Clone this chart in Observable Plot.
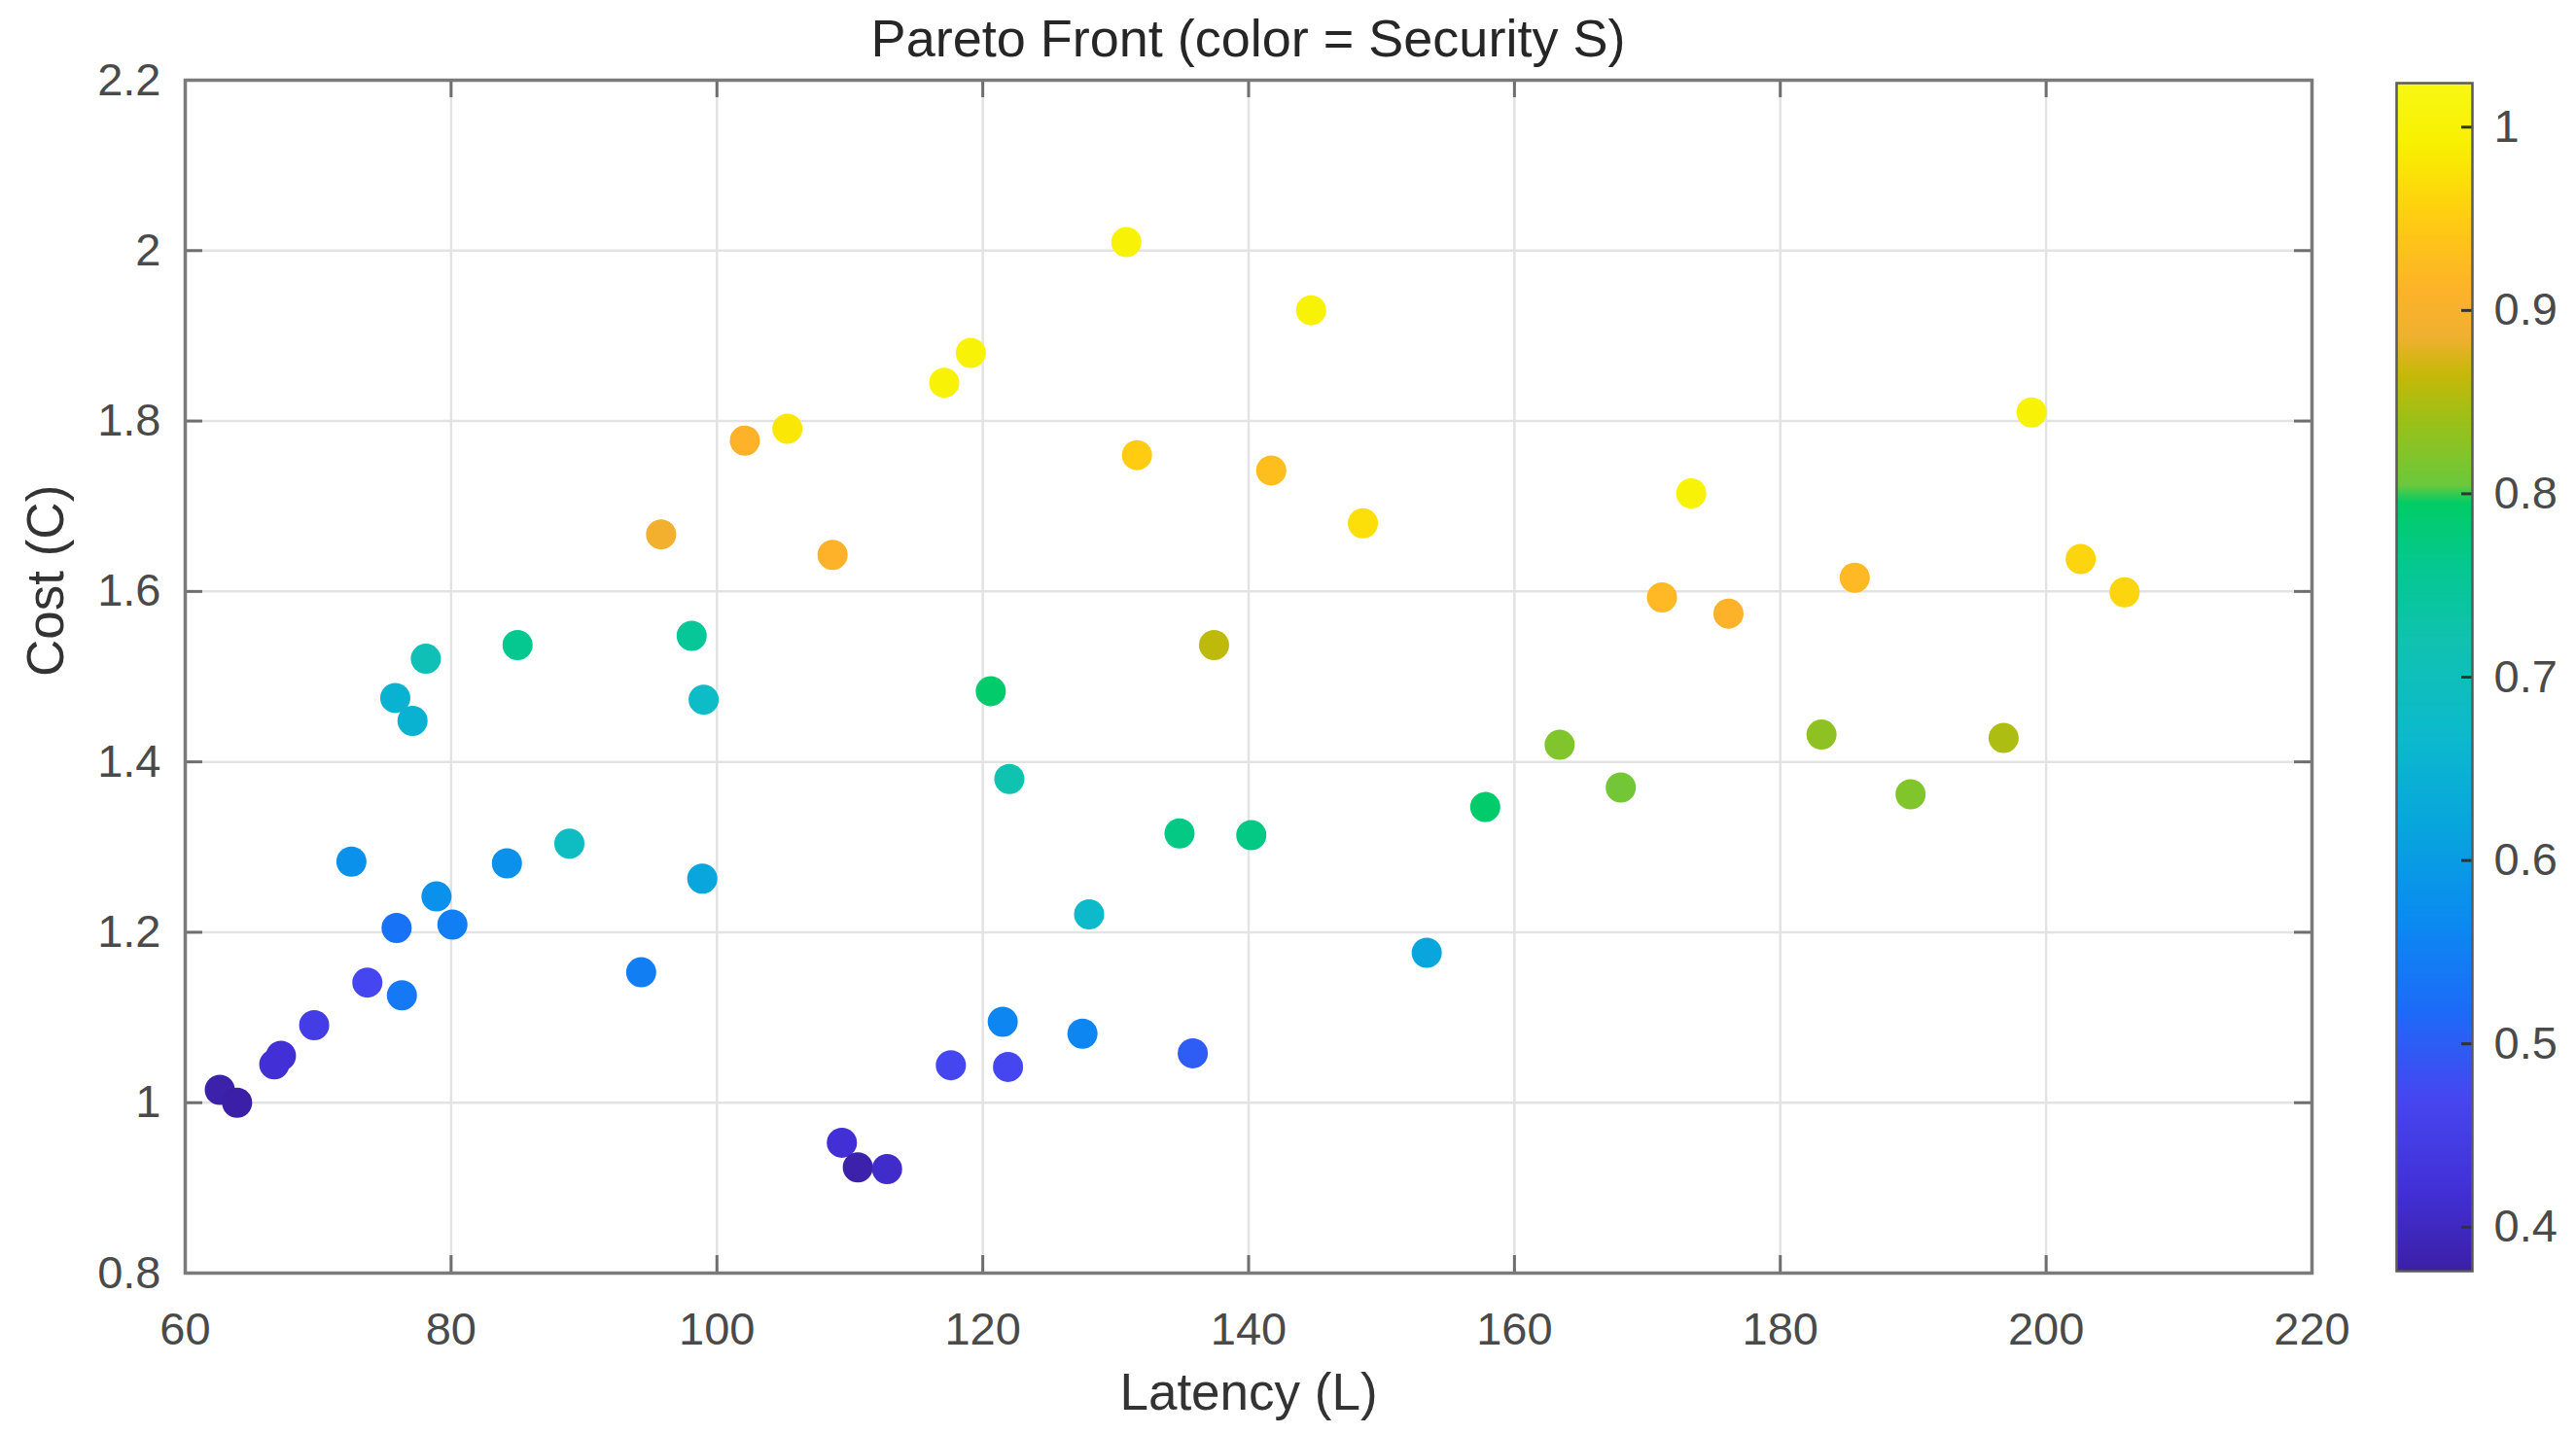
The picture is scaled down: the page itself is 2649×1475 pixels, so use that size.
<!DOCTYPE html>
<html>
<head>
<meta charset="utf-8">
<script src="https://cdn.jsdelivr.net/npm/d3@7"></script>
<script src="https://cdn.jsdelivr.net/npm/@observablehq/plot@0.6"></script>
<style>
  html, body { margin: 0; padding: 0; background: #fff; }
  #wrap { position: relative; width: 2649px; height: 1475px; font-family: "Liberation Sans", Arial, Helvetica, sans-serif; }
  #title { position: absolute; left: 190px; top: 0; width: 2187px; height: 78px; line-height: 78px; text-align: center; font-size: 54px; color: #262626; }
  #row { position: absolute; left: 0; top: 78px; display: flex; flex-direction: row; }
</style>
</head>
<body>
<div id="wrap">
  <div id="title">Pareto Front (color = Security S)</div>
  <div id="row"></div>
</div>
<script>
// ---- data ----
const latency = [62.6, 63.9, 66.7, 67.2, 69.7, 72.5, 73.7, 75.9, 76.3, 75.8,
                 77.1, 78.1, 78.9, 80.1, 84.2, 85.0, 88.9, 94.3, 95.8, 98.1,
                 98.9, 99.0, 102.1, 105.3, 108.7, 109.4, 110.6, 112.8, 117.1, 117.6,
                 119.1, 120.6, 121.5, 121.9, 122.0, 127.5, 128.0, 130.8, 131.6, 134.8,
                 135.8, 137.4, 140.2, 141.7, 144.7, 148.6, 153.4, 157.8, 163.4, 168.0,
                 171.1, 173.3, 176.1, 183.1, 185.6, 189.8, 196.8, 198.9, 202.6, 205.9];
const cost = [1.015, 1.000, 1.045, 1.055, 1.091, 1.283, 1.141, 1.205, 1.126, 1.475,
              1.448, 1.521, 1.242, 1.209, 1.281, 1.537, 1.304, 1.153, 1.667, 1.548,
              1.263, 1.473, 1.777, 1.791, 1.643, 0.953, 0.924, 0.922, 1.845, 1.044,
              1.880, 1.483, 1.095, 1.042, 1.380, 1.081, 1.221, 2.010, 1.760, 1.316,
              1.058, 1.537, 1.314, 1.742, 1.930, 1.680, 1.176, 1.347, 1.420, 1.370,
              1.593, 1.715, 1.574, 1.432, 1.616, 1.362, 1.428, 1.810, 1.638, 1.599];
const security = [0.38, 0.37, 0.42, 0.42, 0.45, 0.58, 0.47, 0.53, 0.54, 0.65,
                  0.65, 0.71, 0.58, 0.55, 0.58, 0.76, 0.69, 0.55, 0.89, 0.75,
                  0.62, 0.68, 0.91, 0.98, 0.91, 0.42, 0.38, 0.41, 1.00, 0.47,
                  1.00, 0.79, 0.56, 0.47, 0.72, 0.56, 0.67, 1.00, 0.95, 0.77,
                  0.50, 0.86, 0.77, 0.93, 1.00, 0.97, 0.62, 0.79, 0.82, 0.81,
                  0.92, 1.00, 0.91, 0.83, 0.92, 0.82, 0.85, 1.00, 0.96, 0.96];

const xTicks = [60, 80, 100, 120, 140, 160, 180, 200, 220];
const yTicks = [0.8, 1, 1.2, 1.4, 1.6, 1.8, 2, 2.2];
const cbTicks = [0.4, 0.5, 0.6, 0.7, 0.8, 0.9, 1];
const xDomain = [60, 220];
const yDomain = [0.8, 2.2];
const cbDomain = [0.376, 1.024];

// colormap as seen in the reference colorbar
const cmapStops  = [0.376, 0.42, 0.47, 0.52, 0.57, 0.62, 0.67, 0.72, 0.76, 0.795, 0.805, 0.84, 0.865, 0.885, 0.91, 0.95, 0.99, 1.024];
const cmapColors = ["#3b1fa6", "#4230d6", "#4646f0", "#1c6cf8", "#0a8cf0", "#08a6dc", "#0cbacc", "#10c2b0",
                    "#04c890", "#02cc66", "#6cc83c", "#9cc018", "#c6b808", "#f0b030", "#fdb22a", "#ffcc12", "#f8f000", "#f8f814"];

const data = latency.map((L, i) => ({L, C: cost[i], S: security[i]}));

const FONT = "Liberation Sans, Arial, Helvetica, sans-serif";
const fmt = d => String(d);
const W = 2420, H = 1397;
const mL = 190, mR = 43, mT = 4, mB = 166;
const plotW = W - mL - mR, plotH = H - mT - mB;
const tickLen = 18;
const colorOpts = {type: "linear", domain: cmapStops, range: cmapColors, interpolate: "rgb", clamp: true};

const main = Plot.plot({
  width: W, height: H,
  marginLeft: mL, marginRight: mR, marginTop: mT, marginBottom: mB,
  style: {fontFamily: FONT, color: "#4a4a4a", overflow: "visible", background: "white"},
  x: {domain: xDomain},
  y: {domain: yDomain},
  color: colorOpts,
  marks: [
    Plot.gridX(xTicks, {stroke: "#e3e3e3", strokeOpacity: 1, strokeWidth: 2.5}),
    Plot.gridY(yTicks, {stroke: "#e3e3e3", strokeOpacity: 1, strokeWidth: 2.5}),
    Plot.tickX(xTicks, {x: d => d, insetTop: plotH - tickLen, stroke: "#6e6e6e", strokeWidth: 3}),
    Plot.tickX(xTicks, {x: d => d, insetBottom: plotH - tickLen, stroke: "#6e6e6e", strokeWidth: 3}),
    Plot.tickY(yTicks, {y: d => d, insetRight: plotW - tickLen, stroke: "#6e6e6e", strokeWidth: 3}),
    Plot.tickY(yTicks, {y: d => d, insetLeft: plotW - tickLen, stroke: "#6e6e6e", strokeWidth: 3}),
    Plot.frame({stroke: "#7a7a7a", strokeWidth: 3.5}),
    Plot.axisX({ticks: xTicks, tickFormat: fmt, tickSize: 0, tickPadding: 40, fontSize: 47, label: null, fill: "#4a4a4a"}),
    Plot.axisY({ticks: yTicks, tickFormat: fmt, tickSize: 0, tickPadding: 25, fontSize: 47, label: null, fill: "#4a4a4a"}),
    Plot.dot(data, {x: "L", y: "C", fill: "S", r: 15.5, stroke: null}),
    Plot.text(["Latency (L)"], {frameAnchor: "bottom", dy: 140, fontSize: 53, fill: "#333333"}),
    Plot.text(["Cost (C)"], {frameAnchor: "left", dx: -142, rotate: -90, fontSize: 53, fill: "#333333"})
  ]
});

// colorbar
const cW = 229, cH = 1397;
const cbL = 44, cbR = 107, cbT = 7, cbB = 168;
const cbWidth = cW - cbL - cbR;
const bar = Plot.plot({
  width: cW, height: cH,
  marginLeft: cbL, marginRight: cbR, marginTop: cbT, marginBottom: cbB,
  style: {fontFamily: FONT, color: "#4a4a4a", overflow: "visible", background: "white"},
  x: {domain: [0, 1], axis: null},
  y: {domain: cbDomain},
  color: colorOpts,
  marks: [
    Plot.raster({x1: 0, x2: 1, y1: cbDomain[0], y2: cbDomain[1], fill: (x, y) => y, pixelSize: 1}),
    Plot.tickY(cbTicks, {y: d => d, insetLeft: cbWidth - 11, stroke: "#333", strokeWidth: 3}),
    Plot.frame({stroke: "#5a5a5a", strokeWidth: 2.5}),
    Plot.axisY({anchor: "right", ticks: cbTicks, tickFormat: fmt, tickSize: 0, tickPadding: 22, fontSize: 47, label: null, fill: "#4a4a4a"})
  ]
});

const row = document.getElementById("row");
row.appendChild(main);
row.appendChild(bar);
</script>
</body>
</html>
